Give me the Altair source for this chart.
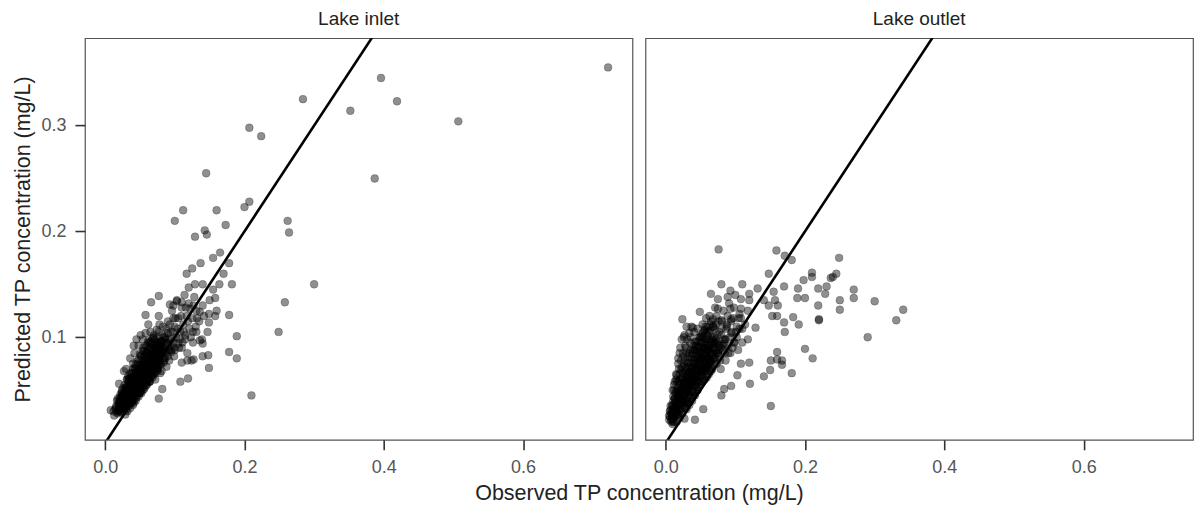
import altair as alt
import pandas as pd

# ---- data ----
# Lake inlet: spread points
inlet_x = [
    0.722, 0.396, 0.419, 0.352, 0.284, 0.507, 0.387, 0.207, 0.224, 0.145,
    0.200, 0.207, 0.262, 0.264, 0.112, 0.100, 0.160, 0.129, 0.143, 0.146,
    0.173, 0.300, 0.258, 0.249, 0.210, 0.189, 0.178, 0.189, 0.178, 0.149,
    0.149, 0.149, 0.136, 0.140, 0.140, 0.148, 0.119, 0.108, 0.077, 0.058,
    0.077, 0.077, 0.066, 0.120, 0.129, 0.140, 0.164, 0.182, 0.158, 0.093,
    0.103, 0.122, 0.136, 0.127, 0.118, 0.098, 0.110, 0.126, 0.131, 0.110,
    0.124, 0.082, 0.039, 0.117, 0.125, 0.137, 0.155, 0.165, 0.178, 0.170,
    0.008, 0.013, 0.029, 0.012, 0.015, 0.018, 0.020, 0.020, 0.022, 0.024,
    0.025, 0.027, 0.027, 0.028, 0.030, 0.030, 0.032, 0.033, 0.035, 0.035,
    0.036, 0.038, 0.038, 0.040, 0.040, 0.041, 0.041, 0.042, 0.043, 0.044,
    0.045, 0.045, 0.046, 0.047, 0.048, 0.049, 0.050, 0.050, 0.051, 0.051,
    0.052, 0.053, 0.054, 0.055, 0.055, 0.056, 0.057, 0.058, 0.059, 0.060,
    0.060, 0.061, 0.062, 0.063, 0.064, 0.065, 0.065, 0.065, 0.066, 0.067,
    0.068, 0.069, 0.070, 0.071, 0.072, 0.073, 0.074, 0.075, 0.076, 0.077,
    0.078, 0.079, 0.079, 0.080, 0.081, 0.082, 0.083, 0.084, 0.085, 0.086,
    0.088, 0.089, 0.090, 0.091, 0.092, 0.094, 0.095, 0.096, 0.098, 0.099,
    0.100, 0.102, 0.103, 0.105, 0.106, 0.108, 0.110, 0.111, 0.112, 0.114,
    0.115, 0.117, 0.118, 0.120, 0.121, 0.125, 0.126, 0.128, 0.130, 0.131,
    0.135, 0.139, 0.140, 0.142, 0.147, 0.150, 0.155, 0.158, 0.160, 0.030,
    0.033, 0.036, 0.039, 0.042, 0.044, 0.046, 0.048, 0.050, 0.052, 0.054,
    0.056, 0.058, 0.060, 0.062, 0.064, 0.066, 0.068, 0.070, 0.072, 0.074,
    0.076, 0.078, 0.080, 0.025, 0.028, 0.032, 0.037, 0.043, 0.047, 0.053,
    0.057, 0.061, 0.067, 0.071, 0.075, 0.017, 0.022, 0.026, 0.031,
]
inlet_y = [
    0.355, 0.345, 0.323, 0.314, 0.325, 0.304, 0.250, 0.298, 0.290, 0.255,
    0.223, 0.228, 0.210, 0.199, 0.220, 0.210, 0.220, 0.195, 0.201, 0.197,
    0.206, 0.150, 0.133, 0.105, 0.045, 0.101, 0.086, 0.080, 0.121, 0.071,
    0.122, 0.114, 0.097, 0.094, 0.082, 0.083, 0.061, 0.058, 0.042, 0.121,
    0.120, 0.139, 0.133, 0.147, 0.150, 0.150, 0.150, 0.150, 0.137, 0.131,
    0.134, 0.127, 0.124, 0.079, 0.078, 0.130, 0.133, 0.105, 0.105, 0.076,
    0.078, 0.051, 0.040, 0.160, 0.165, 0.170, 0.175, 0.180, 0.170, 0.160,
    0.031, 0.026, 0.027, 0.030, 0.033, 0.028, 0.036, 0.056, 0.040, 0.032,
    0.045, 0.038, 0.068, 0.050, 0.035, 0.042, 0.055, 0.047, 0.040, 0.060,
    0.052, 0.044, 0.065, 0.048, 0.056, 0.038, 0.092, 0.062, 0.070, 0.050,
    0.043, 0.058, 0.066, 0.075, 0.053, 0.047, 0.060, 0.070, 0.082, 0.102,
    0.056, 0.064, 0.050, 0.073, 0.090, 0.060, 0.067, 0.078, 0.055, 0.085,
    0.063, 0.072, 0.095, 0.068, 0.058, 0.080, 0.105, 0.062, 0.075, 0.088,
    0.065, 0.100, 0.072, 0.082, 0.060, 0.093, 0.078, 0.070, 0.087, 0.105,
    0.083, 0.075, 0.066, 0.095, 0.068, 0.088, 0.110, 0.080, 0.100, 0.092,
    0.072, 0.085, 0.115, 0.098, 0.078, 0.105, 0.088, 0.125, 0.095, 0.082,
    0.110, 0.100, 0.135, 0.118, 0.090, 0.105, 0.128, 0.095, 0.112, 0.140,
    0.102, 0.120, 0.085, 0.132, 0.108, 0.118, 0.095, 0.138, 0.110, 0.125,
    0.115, 0.098, 0.130, 0.120, 0.105, 0.135, 0.145, 0.120, 0.125, 0.048,
    0.038, 0.045, 0.052, 0.045, 0.055, 0.050, 0.060, 0.052, 0.066, 0.072,
    0.068, 0.062, 0.070, 0.078, 0.072, 0.082, 0.078, 0.085, 0.090, 0.086,
    0.080, 0.092, 0.088, 0.038, 0.043, 0.036, 0.058, 0.064, 0.057, 0.075,
    0.082, 0.088, 0.094, 0.098, 0.095, 0.040, 0.046, 0.052, 0.060,
]
# Lake inlet: dense core
inlet_core_x = [
    0.016, 0.019, 0.021, 0.023, 0.024, 0.026, 0.027, 0.029, 0.031, 0.031,
    0.033, 0.034, 0.035, 0.036, 0.037, 0.038, 0.039, 0.040, 0.041, 0.042,
    0.043, 0.044, 0.045, 0.046, 0.047, 0.048, 0.049, 0.050, 0.051, 0.052,
    0.053, 0.054, 0.055, 0.056, 0.057, 0.058, 0.059, 0.060, 0.061, 0.062,
    0.063, 0.064, 0.065, 0.066, 0.067, 0.068, 0.069, 0.070, 0.071, 0.072,
    0.073, 0.074, 0.075, 0.076, 0.077, 0.078, 0.079, 0.080, 0.082, 0.083,
    0.084, 0.086, 0.087, 0.088, 0.090, 0.092, 0.093, 0.095, 0.097, 0.099,
    0.101, 0.104, 0.107, 0.109, 0.113, 0.116, 0.119, 0.123, 0.127, 0.132,
    0.030, 0.036, 0.042, 0.048, 0.054, 0.058, 0.045, 0.062, 0.040, 0.033,
    0.020, 0.022, 0.024, 0.026, 0.028, 0.030, 0.032, 0.034, 0.036, 0.038,
    0.040, 0.042, 0.044, 0.046, 0.048, 0.050, 0.052, 0.054, 0.056, 0.058,
    0.060, 0.062, 0.064, 0.066, 0.068, 0.070, 0.072, 0.074, 0.076, 0.078,
    0.021, 0.023, 0.025, 0.027, 0.029, 0.031, 0.033, 0.035, 0.037, 0.039,
    0.041, 0.043, 0.045, 0.047, 0.049, 0.051, 0.053, 0.055, 0.057, 0.059,
    0.061, 0.063, 0.065, 0.067, 0.069, 0.071, 0.073, 0.075, 0.077, 0.079,
    0.018, 0.024, 0.030, 0.034, 0.038, 0.042, 0.046, 0.050, 0.054, 0.058,
    0.062, 0.066, 0.070, 0.074, 0.078, 0.082, 0.086, 0.090, 0.094, 0.098,
    0.032, 0.036, 0.040, 0.044, 0.048, 0.052, 0.056, 0.060, 0.064, 0.068,
    0.072, 0.076, 0.080, 0.085, 0.090, 0.095, 0.100, 0.105, 0.110, 0.115,
]
inlet_core_y = [
    0.035, 0.031, 0.043, 0.036, 0.050, 0.041, 0.034, 0.047, 0.039, 0.053,
    0.044, 0.058, 0.050, 0.037, 0.047, 0.055, 0.062, 0.043, 0.051, 0.058,
    0.046, 0.067, 0.052, 0.060, 0.048, 0.070, 0.056, 0.064, 0.050, 0.074,
    0.059, 0.066, 0.055, 0.078, 0.062, 0.070, 0.085, 0.058, 0.067, 0.074,
    0.082, 0.064, 0.070, 0.090, 0.078, 0.072, 0.084, 0.066, 0.092, 0.076,
    0.084, 0.070, 0.100, 0.092, 0.078, 0.088, 0.096, 0.082, 0.102, 0.090,
    0.076, 0.098, 0.086, 0.108, 0.094, 0.088, 0.112, 0.098, 0.105, 0.090,
    0.118, 0.108, 0.098, 0.120, 0.105, 0.128, 0.115, 0.100, 0.130, 0.118,
    0.070, 0.080, 0.085, 0.092, 0.098, 0.104, 0.098, 0.112, 0.075, 0.063,
    0.030, 0.034, 0.037, 0.040, 0.036, 0.045, 0.041, 0.048, 0.043, 0.051,
    0.046, 0.054, 0.049, 0.057, 0.052, 0.055, 0.060, 0.058, 0.063, 0.066,
    0.061, 0.069, 0.067, 0.072, 0.070, 0.075, 0.073, 0.080, 0.077, 0.082,
    0.038, 0.029, 0.044, 0.033, 0.039, 0.050, 0.037, 0.042, 0.056, 0.040,
    0.046, 0.061, 0.047, 0.053, 0.064, 0.048, 0.057, 0.068, 0.053, 0.062,
    0.075, 0.058, 0.066, 0.082, 0.064, 0.071, 0.088, 0.068, 0.074, 0.090,
    0.042, 0.046, 0.052, 0.061, 0.066, 0.071, 0.077, 0.084, 0.087, 0.092,
    0.097, 0.096, 0.102, 0.107, 0.112, 0.096, 0.080, 0.104, 0.092, 0.118,
    0.030, 0.033, 0.036, 0.040, 0.044, 0.047, 0.051, 0.055, 0.058, 0.062,
    0.066, 0.070, 0.074, 0.078, 0.082, 0.086, 0.088, 0.094, 0.090, 0.098,
]
# Lake inlet: darkest band
inlet_band_x = [
    0.015, 0.017, 0.019, 0.020, 0.022, 0.023, 0.025, 0.026, 0.027, 0.028,
    0.029, 0.030, 0.031, 0.032, 0.033, 0.034, 0.035, 0.036, 0.037, 0.038,
    0.039, 0.040, 0.041, 0.042, 0.043, 0.044, 0.045, 0.046, 0.047, 0.048,
    0.049, 0.050, 0.051, 0.052, 0.053, 0.054, 0.055, 0.056, 0.057, 0.058,
    0.059, 0.060, 0.061, 0.062, 0.063, 0.064, 0.065, 0.066, 0.067, 0.068,
    0.069, 0.070, 0.071, 0.072, 0.073, 0.074, 0.075, 0.076, 0.077, 0.078,
    0.080, 0.082, 0.084, 0.086, 0.088, 0.024, 0.028, 0.032, 0.036, 0.040,
    0.044, 0.048, 0.052, 0.056, 0.060, 0.064, 0.068, 0.030, 0.034, 0.038,
    0.042, 0.046, 0.050, 0.054, 0.058, 0.062, 0.066, 0.070, 0.074, 0.078,
    0.020, 0.025, 0.030, 0.035, 0.040, 0.045, 0.050, 0.055, 0.060, 0.065,
]
inlet_band_y = [
    0.032, 0.029, 0.037, 0.033, 0.030, 0.041, 0.036, 0.043, 0.032, 0.046,
    0.040, 0.037, 0.049, 0.044, 0.040, 0.052, 0.046, 0.042, 0.055, 0.049,
    0.045, 0.058, 0.053, 0.048, 0.061, 0.056, 0.050, 0.064, 0.059, 0.054,
    0.067, 0.062, 0.057, 0.070, 0.065, 0.060, 0.073, 0.068, 0.063, 0.076,
    0.071, 0.066, 0.079, 0.074, 0.069, 0.082, 0.077, 0.071, 0.085, 0.080,
    0.074, 0.088, 0.083, 0.077, 0.090, 0.085, 0.080, 0.094, 0.088, 0.084,
    0.096, 0.091, 0.086, 0.100, 0.094, 0.048, 0.055, 0.060, 0.066, 0.070,
    0.074, 0.079, 0.083, 0.087, 0.092, 0.095, 0.099, 0.031, 0.035, 0.038,
    0.041, 0.045, 0.048, 0.053, 0.057, 0.060, 0.064, 0.068, 0.073, 0.077,
    0.040, 0.044, 0.051, 0.057, 0.063, 0.068, 0.074, 0.080, 0.084, 0.090,
]

# Lake outlet: spread points
outlet_x = [
    0.076, 0.159, 0.171, 0.181, 0.249, 0.210, 0.198, 0.210, 0.237, 0.245,
    0.240, 0.190, 0.189, 0.200, 0.219, 0.231, 0.229, 0.270, 0.270, 0.250,
    0.250, 0.300, 0.219, 0.220, 0.220, 0.290, 0.341, 0.331, 0.200, 0.211,
    0.181, 0.151, 0.141, 0.150, 0.151, 0.167, 0.167, 0.121, 0.148, 0.170,
    0.155, 0.157, 0.148, 0.161, 0.153, 0.160, 0.170, 0.171, 0.183, 0.191,
    0.160, 0.160, 0.120, 0.024, 0.023, 0.027,
    0.049, 0.039, 0.065, 0.080, 0.093, 0.110, 0.075, 0.075, 0.089, 0.093,
    0.108, 0.120, 0.120, 0.132, 0.141, 0.108, 0.058, 0.068, 0.080, 0.094,
    0.108, 0.129, 0.110, 0.118, 0.108, 0.103, 0.094, 0.080, 0.084, 0.054,
    0.042, 0.027, 0.011, 0.013, 0.005, 0.008, 0.010, 0.010, 0.012, 0.013,
    0.015, 0.016, 0.017, 0.018, 0.019, 0.020, 0.021, 0.022, 0.023, 0.024,
    0.025, 0.026, 0.027, 0.028, 0.029, 0.030, 0.031, 0.032, 0.033, 0.034,
    0.035, 0.036, 0.037, 0.038, 0.039, 0.040, 0.041, 0.042, 0.043, 0.044,
    0.045, 0.046, 0.047, 0.048, 0.049, 0.050, 0.051, 0.052, 0.053, 0.054,
    0.055, 0.056, 0.057, 0.058, 0.059, 0.060, 0.061, 0.062, 0.063, 0.064,
    0.065, 0.066, 0.067, 0.068, 0.069, 0.070, 0.071, 0.072, 0.073, 0.074,
    0.075, 0.076, 0.078, 0.079, 0.080, 0.082, 0.083, 0.085, 0.086, 0.088,
    0.090, 0.091, 0.093, 0.095, 0.097, 0.099, 0.100, 0.102, 0.104, 0.106,
    0.015, 0.018, 0.012, 0.020, 0.030, 0.035, 0.040, 0.045, 0.050, 0.055,
    0.060, 0.065, 0.070, 0.032, 0.038, 0.044, 0.052, 0.058, 0.064, 0.022,
]
outlet_y = [
    0.183, 0.182, 0.177, 0.173, 0.175, 0.161, 0.154, 0.157, 0.156, 0.160,
    0.157, 0.146, 0.137, 0.137, 0.146, 0.148, 0.141, 0.145, 0.137, 0.135,
    0.126, 0.134, 0.130, 0.116, 0.117, 0.100, 0.126, 0.116, 0.089, 0.080,
    0.066, 0.035, 0.063, 0.069, 0.078, 0.078, 0.074, 0.056, 0.160, 0.148,
    0.143, 0.135, 0.130, 0.130, 0.120, 0.120, 0.114, 0.105, 0.119, 0.112,
    0.086, 0.079, 0.076, 0.117, 0.098, 0.102,
    0.124, 0.109, 0.141, 0.150, 0.144, 0.150, 0.136, 0.127, 0.138, 0.127,
    0.136, 0.141, 0.135, 0.146, 0.135, 0.127, 0.118, 0.117, 0.116, 0.117,
    0.118, 0.109, 0.108, 0.098, 0.075, 0.064, 0.054, 0.045, 0.051, 0.032,
    0.022, 0.023, 0.020, 0.029, 0.022, 0.028, 0.018, 0.035, 0.025, 0.042,
    0.030, 0.020, 0.050, 0.037, 0.027, 0.060, 0.044, 0.032, 0.068, 0.052,
    0.040, 0.075, 0.035, 0.058, 0.047, 0.085, 0.065, 0.042, 0.072, 0.053,
    0.095, 0.060, 0.045, 0.080, 0.068, 0.055, 0.105, 0.088, 0.062, 0.075,
    0.050, 0.092, 0.070, 0.082, 0.058, 0.100, 0.065, 0.078, 0.112, 0.088,
    0.070, 0.060, 0.095, 0.082, 0.105, 0.073, 0.090, 0.065, 0.120, 0.085,
    0.078, 0.098, 0.070, 0.110, 0.088, 0.080, 0.128, 0.095, 0.075, 0.102,
    0.085, 0.115, 0.092, 0.070, 0.108, 0.088, 0.125, 0.098, 0.078, 0.112,
    0.092, 0.132, 0.085, 0.105, 0.118, 0.095, 0.140, 0.110, 0.088, 0.122,
    0.065, 0.075, 0.055, 0.085, 0.050, 0.055, 0.062, 0.065, 0.072, 0.078,
    0.082, 0.090, 0.095, 0.038, 0.048, 0.058, 0.068, 0.072, 0.076, 0.045,
]
# Lake outlet: dense core
outlet_core_x = [
    0.006, 0.009, 0.011, 0.012, 0.014, 0.015, 0.016, 0.018, 0.019, 0.020,
    0.021, 0.022, 0.023, 0.024, 0.025, 0.026, 0.027, 0.028, 0.029, 0.030,
    0.031, 0.032, 0.033, 0.034, 0.035, 0.036, 0.037, 0.038, 0.039, 0.040,
    0.041, 0.042, 0.043, 0.044, 0.045, 0.046, 0.047, 0.048, 0.049, 0.050,
    0.051, 0.052, 0.053, 0.054, 0.055, 0.056, 0.057, 0.058, 0.059, 0.060,
    0.061, 0.062, 0.063, 0.064, 0.065, 0.066, 0.067, 0.068, 0.069, 0.070,
    0.072, 0.073, 0.074, 0.076, 0.077, 0.079, 0.081, 0.083, 0.085, 0.087,
    0.089, 0.092, 0.094, 0.096, 0.098, 0.101, 0.105, 0.110, 0.114, 0.118,
    0.006, 0.008, 0.010, 0.012, 0.014, 0.016, 0.018, 0.020, 0.022, 0.024,
    0.026, 0.028, 0.030, 0.032, 0.034, 0.036, 0.038, 0.040, 0.042, 0.044,
    0.046, 0.048, 0.050, 0.052, 0.054, 0.056, 0.058, 0.060, 0.062, 0.064,
    0.007, 0.009, 0.011, 0.013, 0.015, 0.017, 0.019, 0.021, 0.023, 0.025,
    0.027, 0.029, 0.031, 0.033, 0.035, 0.037, 0.039, 0.041, 0.043, 0.045,
    0.047, 0.049, 0.051, 0.053, 0.055, 0.057, 0.059, 0.061, 0.063, 0.065,
    0.012, 0.016, 0.020, 0.024, 0.028, 0.032, 0.036, 0.040, 0.044, 0.048,
    0.052, 0.056, 0.060, 0.064, 0.068, 0.072, 0.076, 0.080, 0.084, 0.088,
    0.030, 0.034, 0.038, 0.042, 0.046, 0.050, 0.054, 0.058, 0.062, 0.066,
    0.070, 0.074, 0.078, 0.082, 0.086, 0.090, 0.094, 0.098, 0.102, 0.106,
]
outlet_core_y = [
    0.030, 0.024, 0.040, 0.020, 0.033, 0.048, 0.026, 0.042, 0.058, 0.030,
    0.050, 0.070, 0.038, 0.062, 0.082, 0.045, 0.055, 0.068, 0.090, 0.040,
    0.075, 0.060, 0.050, 0.085, 0.068, 0.100, 0.055, 0.072, 0.088, 0.062,
    0.078, 0.095, 0.055, 0.085, 0.070, 0.108, 0.062, 0.090, 0.075, 0.085,
    0.095, 0.068, 0.080, 0.100, 0.090, 0.075, 0.110, 0.068, 0.088, 0.098,
    0.080, 0.105, 0.072, 0.092, 0.115, 0.085, 0.100, 0.078, 0.094, 0.108,
    0.085, 0.120, 0.095, 0.082, 0.105, 0.090, 0.115, 0.098, 0.085, 0.108,
    0.120, 0.100, 0.115, 0.090, 0.128, 0.105, 0.118, 0.095, 0.112, 0.125,
    0.025, 0.020, 0.032, 0.027, 0.038, 0.030, 0.044, 0.036, 0.050, 0.041,
    0.056, 0.046, 0.062, 0.050, 0.066, 0.055, 0.070, 0.060, 0.075, 0.064,
    0.080, 0.068, 0.085, 0.072, 0.090, 0.076, 0.094, 0.080, 0.098, 0.084,
    0.035, 0.028, 0.023, 0.042, 0.034, 0.027, 0.048, 0.040, 0.033, 0.055,
    0.046, 0.038, 0.060, 0.052, 0.044, 0.066, 0.058, 0.048, 0.072, 0.062,
    0.053, 0.078, 0.067, 0.058, 0.083, 0.072, 0.062, 0.088, 0.077, 0.068,
    0.050, 0.058, 0.065, 0.072, 0.078, 0.082, 0.088, 0.092, 0.096, 0.100,
    0.102, 0.106, 0.110, 0.112, 0.090, 0.098, 0.088, 0.102, 0.094, 0.110,
    0.032, 0.036, 0.040, 0.045, 0.050, 0.055, 0.060, 0.064, 0.070, 0.074,
    0.080, 0.085, 0.078, 0.092, 0.098, 0.085, 0.104, 0.095, 0.100, 0.108,
]
# Lake outlet: darkest band
outlet_band_x = [
    0.005, 0.007, 0.008, 0.009, 0.010, 0.011, 0.012, 0.013, 0.014, 0.015,
    0.016, 0.017, 0.018, 0.019, 0.020, 0.021, 0.022, 0.023, 0.024, 0.025,
    0.026, 0.027, 0.028, 0.029, 0.030, 0.031, 0.032, 0.033, 0.034, 0.035,
    0.036, 0.037, 0.038, 0.039, 0.040, 0.041, 0.042, 0.043, 0.044, 0.045,
    0.046, 0.047, 0.048, 0.049, 0.050, 0.051, 0.052, 0.053, 0.054, 0.055,
    0.056, 0.057, 0.058, 0.060, 0.062, 0.064, 0.066, 0.068, 0.070, 0.072,
    0.010, 0.013, 0.016, 0.019, 0.022, 0.025, 0.028, 0.031, 0.034, 0.037,
    0.020, 0.024, 0.028, 0.032, 0.036, 0.040, 0.044, 0.048, 0.052, 0.056,
    0.060, 0.064, 0.068, 0.072, 0.076, 0.015, 0.018, 0.021, 0.026, 0.030,
]
outlet_band_y = [
    0.026, 0.031, 0.022, 0.036, 0.029, 0.044, 0.034, 0.026, 0.047, 0.039,
    0.031, 0.052, 0.045, 0.036, 0.056, 0.048, 0.040, 0.061, 0.053, 0.045,
    0.066, 0.058, 0.050, 0.071, 0.063, 0.054, 0.076, 0.067, 0.058, 0.080,
    0.072, 0.062, 0.084, 0.076, 0.066, 0.088, 0.080, 0.070, 0.092, 0.083,
    0.074, 0.096, 0.087, 0.078, 0.100, 0.091, 0.081, 0.104, 0.094, 0.085,
    0.107, 0.098, 0.088, 0.102, 0.092, 0.106, 0.096, 0.110, 0.100, 0.112,
    0.050, 0.058, 0.064, 0.070, 0.078, 0.085, 0.092, 0.098, 0.104, 0.110,
    0.024, 0.028, 0.033, 0.038, 0.043, 0.048, 0.053, 0.058, 0.063, 0.068,
    0.073, 0.078, 0.083, 0.088, 0.093, 0.060, 0.080, 0.090, 0.100, 0.110,
]

panel_titles = ["Lake inlet", "Lake outlet"]
x_ticks = [0.0, 0.2, 0.4, 0.6]
y_ticks = [0.1, 0.2, 0.3]
x_domain = [-0.029, 0.757]
y_domain = [0.003, 0.3826]
ref_line = [-0.03, 0.5]

FONT = "Liberation Sans"
PW, PH, GAP = 548, 402, 13

line_df = pd.DataFrame({"obs": ref_line, "pred": ref_line})


def panel(xs, ys, title, first):
    df = pd.DataFrame({"obs": xs, "pred": ys})
    if first:
        xaxis = alt.Axis(values=x_ticks, format=".1f",
                         title="Observed TP concentration (mg/L)",
                         titleX=PW + GAP / 2, titleAnchor="middle")
        yenc = alt.Y("pred:Q", scale=alt.Scale(domain=y_domain, nice=False, zero=False),
                     axis=alt.Axis(values=y_ticks, format=".1f",
                                   title="Predicted TP concentration (mg/L)"))
    else:
        xaxis = alt.Axis(values=x_ticks, format=".1f", title="")
        yenc = alt.Y("pred:Q", scale=alt.Scale(domain=y_domain, nice=False, zero=False),
                     axis=None)
    xenc = alt.X("obs:Q", scale=alt.Scale(domain=x_domain, nice=False, zero=False),
                 axis=xaxis)
    pts = alt.Chart(df).mark_circle(
        size=62, color="black", fillOpacity=0.44,
        stroke="black", strokeOpacity=0.25, strokeWidth=0.8, clip=True
    ).encode(x=xenc, y=yenc)
    line = alt.Chart(line_df).mark_line(
        color="black", strokeWidth=2.6, clip=True
    ).encode(x=alt.X("obs:Q"), y=alt.Y("pred:Q"))
    return alt.layer(pts, line).properties(
        width=PW, height=PH,
        title=alt.TitleParams(title, fontSize=19, font=FONT, color="#222",
                              fontWeight="normal", anchor="middle", offset=9),
    )


chart = alt.hconcat(
    panel(inlet_x + inlet_core_x + inlet_band_x,
          inlet_y + inlet_core_y + inlet_band_y, panel_titles[0], True),
    panel(outlet_x + outlet_core_x + outlet_band_x,
          outlet_y + outlet_core_y + outlet_band_y, panel_titles[1], False),
    spacing=GAP,
    bounds="flush",
).properties(
    padding={"left": 4, "top": 1, "right": 0, "bottom": 0}
).configure_view(
    stroke="#555", strokeWidth=1.2
).configure_axis(
    domain=False, grid=False, ticks=True,
    tickColor="#333", tickWidth=1.6, tickSize=10,
    labelFont=FONT, labelFontSize=18, labelColor="#555", labelPadding=9,
    titleFont=FONT, titleFontSize=21.5, titleColor="#222", titleFontWeight="normal",
    titlePadding=6,
).configure_title(font=FONT)

chart.save("out.html", embed_options={"renderer": "svg", "actions": False})
